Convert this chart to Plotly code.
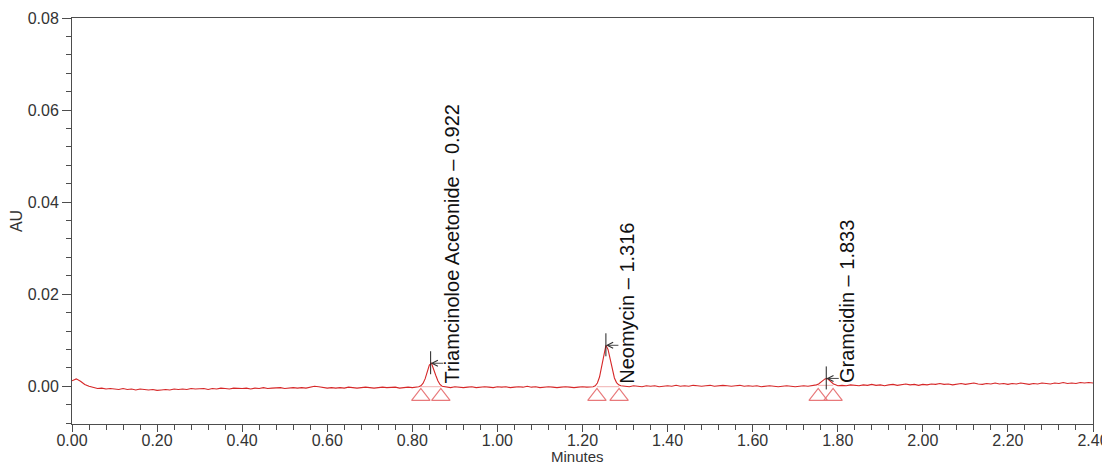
import numpy as np
import plotly.graph_objects as go

# ---- data ----
# segment sampling grids (minutes)
t_segA = np.round(np.linspace(0.00, 0.81, 82), 3)
t_pk1 = [0.815, 0.82, 0.825, 0.83, 0.835, 0.84, 0.845, 0.85, 0.855, 0.86, 0.865, 0.87]
t_segB = np.round(np.linspace(0.88, 1.22, 35), 3)
t_pk2 = [1.225, 1.23, 1.235, 1.24, 1.245, 1.25, 1.255, 1.26, 1.265, 1.27, 1.275, 1.28, 1.285, 1.29]
t_segC = np.round(np.linspace(1.30, 1.74, 45), 3)
t_pk3 = [1.745, 1.75, 1.755, 1.76, 1.765, 1.77, 1.775, 1.78, 1.785, 1.79, 1.795]
t_segD = np.round(np.linspace(1.80, 2.40, 61), 3)

au_segA = [0.0012, 0.0016, 0.0011, 0.0004, 0.0000, -0.0002,
           -0.0005, -0.0004, -0.0006, -0.0005, -0.0006,
           -0.0007, -0.0005, -0.0007, -0.0006, -0.0008,
           -0.0006, -0.0007, -0.0008, -0.0007, -0.0009,
           -0.0008, -0.0007, -0.0008, -0.0006, -0.0007,
           -0.0006, -0.0007, -0.0005, -0.0006, -0.0006,
           -0.0005, -0.0007, -0.0005, -0.0006, -0.0004,
           -0.0005, -0.0006, -0.0004, -0.0005, -0.0005,
           -0.0004, -0.0006, -0.0004, -0.0005, -0.0003,
           -0.0005, -0.0004, -0.0004, -0.0003, -0.0005,
           -0.0004, -0.0003, -0.0004, -0.0003, -0.0004,
           -0.0002, 0.0000, -0.0001, -0.0003, -0.0004,
           -0.0003, -0.0004, -0.0003, -0.0004, -0.0002,
           -0.0003, -0.0004, -0.0003, -0.0002, -0.0003,
           -0.0004, -0.0003, -0.0002, -0.0003, -0.0003,
           -0.0002, -0.0004, -0.0003, -0.0002, -0.0003,
           -0.0002]
au_pk1 = [-0.0001, 0.0001, 0.0006, 0.0016, 0.0033, 0.0046, 0.0050, 0.0039, 0.0024, 0.0012, 0.0004, 0.0000]
au_segB = [-0.0002, -0.0003, -0.0001, -0.0002, -0.0003,
           -0.0002, -0.0001, -0.0003, -0.0002, -0.0001,
           -0.0002, -0.0003, -0.0001, -0.0002, -0.0001,
           -0.0003, -0.0002, -0.0001, -0.0002, 0.0000,
           -0.0002, -0.0001, -0.0003, -0.0002, -0.0001,
           -0.0002, -0.0003, -0.0002, -0.0001, -0.0002,
           -0.0003, -0.0002, -0.0001, -0.0002, -0.0002]
au_pk2 = [-0.0001, 0.0001, 0.0007, 0.0020, 0.0043, 0.0072, 0.0089, 0.0080, 0.0058, 0.0035, 0.0018, 0.0008, 0.0003, 0.0001]
au_segC = [0.0000, -0.0001, 0.0001, 0.0000, -0.0001,
           0.0001, 0.0000, 0.0001, -0.0001, 0.0000,
           0.0001, 0.0000, 0.0002, 0.0000, 0.0001,
           0.0000, 0.0002, 0.0001, 0.0000, 0.0001,
           0.0002, 0.0000, 0.0001, 0.0002, 0.0001,
           0.0000, 0.0001, 0.0002, 0.0000, 0.0001,
           0.0000, 0.0001, -0.0001, 0.0000, 0.0001,
           0.0000, -0.0001, 0.0000, 0.0001, 0.0000,
           -0.0001, 0.0000, 0.0001, 0.0000, 0.0001]
au_pk3 = [0.0001, 0.0003, 0.0005, 0.0009, 0.0013, 0.0016, 0.0017, 0.0013, 0.0008, 0.0005, 0.0003]
au_segD = [0.0001, 0.0002, 0.0001, 0.0003, 0.0002,
           0.0001, 0.0003, 0.0002, 0.0004, 0.0002,
           0.0003, 0.0001, 0.0003, 0.0004, 0.0002,
           0.0003, 0.0005, 0.0003, 0.0004, 0.0002,
           0.0004, 0.0003, 0.0005, 0.0004, 0.0006,
           0.0004, 0.0005, 0.0003, 0.0005, 0.0006,
           0.0004, 0.0005, 0.0007, 0.0005, 0.0004,
           0.0006, 0.0005, 0.0007, 0.0005, 0.0006,
           0.0004, 0.0006, 0.0005, 0.0007, 0.0006,
           0.0004, 0.0006, 0.0005, 0.0007, 0.0006,
           0.0005, 0.0007, 0.0006, 0.0008, 0.0006,
           0.0007, 0.0006, 0.0008, 0.0007, 0.0008,
           0.0007]

# peaks: names, apex times/heights, integration start/end
peak_labels = ["Triamcinoloe Acetonide – 0.922", "Neomycin – 1.316", "Gramcidin – 1.833"]
peak_apex_t = [0.843, 1.255, 1.773]
peak_apex_au = [0.0050, 0.0089, 0.0017]
peak_start_t = [0.820, 1.234, 1.754]
peak_end_t = [0.867, 1.286, 1.789]
peak_base_au = [-0.0001, -0.0001, 0.0002]
marker_au = -0.0022

x_ticks = [0.0, 0.2, 0.4, 0.6, 0.8, 1.0, 1.2, 1.4, 1.6, 1.8, 2.0, 2.2, 2.4]
y_ticks = [0.00, 0.02, 0.04, 0.06, 0.08]
x_title = "Minutes"
y_title = "AU"

# ---- assemble trace ----
t_all = np.concatenate([t_segA, t_pk1, t_segB, t_pk2, t_segC, t_pk3, t_segD])
au_all = au_segA + au_pk1 + au_segB + au_pk2 + au_segC + au_pk3 + au_segD

RED = "#d62728"
PINK = "#e8797b"
INK = "#333333"
AXIS = "#4d4d4d"
FONT = "Liberation Sans, Arial, sans-serif"

fig = go.Figure()

# baseline segments under peaks
for s, e, b in zip(peak_start_t, peak_end_t, peak_base_au):
    fig.add_trace(go.Scatter(x=[s, e], y=[b, b], mode="lines",
                             line=dict(color="#f0b0b0", width=1),
                             hoverinfo="skip", showlegend=False))

fig.add_trace(go.Scatter(x=t_all, y=au_all, mode="lines",
                         line=dict(color=RED, width=1.1),
                         showlegend=False))

# start/end triangles
fig.add_trace(go.Scatter(x=peak_start_t + peak_end_t,
                         y=[marker_au] * (len(peak_start_t) + len(peak_end_t)),
                         mode="markers",
                         marker=dict(symbol="triangle-up-open", size=16,
                                     color=PINK, line=dict(width=1.2, color=PINK)),
                         showlegend=False, hoverinfo="skip"))

# apex markers, arrows and labels
for lab, ta, ya in zip(peak_labels, peak_apex_t, peak_apex_au):
    fig.add_shape(type="line", xref="x", yref="y", x0=ta, x1=ta,
                  ysizemode="pixel", yanchor=ya, y0=-11, y1=12,
                  line=dict(color="#222222", width=1))
    fig.add_annotation(x=ta, y=ya, xref="x", yref="y", text="",
                       showarrow=True, ax=14, ay=0, arrowhead=5,
                       arrowsize=1.3, arrowwidth=0.9, arrowcolor="#333333",
                       standoff=0)
    fig.add_annotation(x=ta, y=0.0002, xref="x", yref="y", text=lab,
                       textangle=-90, showarrow=False,
                       xanchor="left", yanchor="bottom", xshift=8,
                       font=dict(family=FONT, size=20, color="#111111"))

# x-axis title placed just below the tick labels
fig.add_annotation(x=0.495, y=-0.081, xref="paper", yref="paper",
                   text=x_title, showarrow=False,
                   xanchor="center", yanchor="middle", borderpad=0,
                   font=dict(family=FONT, size=15, color=INK))

# page body adds an 8px margin, so the figure fills the remaining viewport
fig.update_layout(
    width=1102, height=456,
    margin=dict(l=64, r=17, t=10, b=40),
    paper_bgcolor="white", plot_bgcolor="white",
    font=dict(family=FONT, size=16, color=INK),
)
fig.update_xaxes(
    range=[0, 2.4], tickvals=x_ticks, tickformat=".2f",
    automargin=False,
    showgrid=False, zeroline=False, showline=True, mirror=True,
    linecolor=AXIS, linewidth=1,
    ticks="outside", ticklen=7, tickcolor=AXIS,
    minor=dict(dtick=0.04, ticks="outside", ticklen=5, tickcolor=AXIS),
    tickfont=dict(size=16, color=INK),
    ticklabelstandoff=-5,
)
fig.update_yaxes(
    range=[-0.0082, 0.08], tickvals=y_ticks, tickformat=".2f",
    automargin=False,
    showgrid=False, zeroline=False, showline=True, mirror=True,
    linecolor=AXIS, linewidth=1,
    ticks="outside", ticklen=9, tickcolor=AXIS,
    minor=dict(dtick=0.004, ticks="outside", ticklen=5, tickcolor=AXIS),
    tickfont=dict(size=16, color=INK),
    title=dict(text=y_title, font=dict(size=16, color=INK), standoff=2),
)

fig.write_html("out.html")
